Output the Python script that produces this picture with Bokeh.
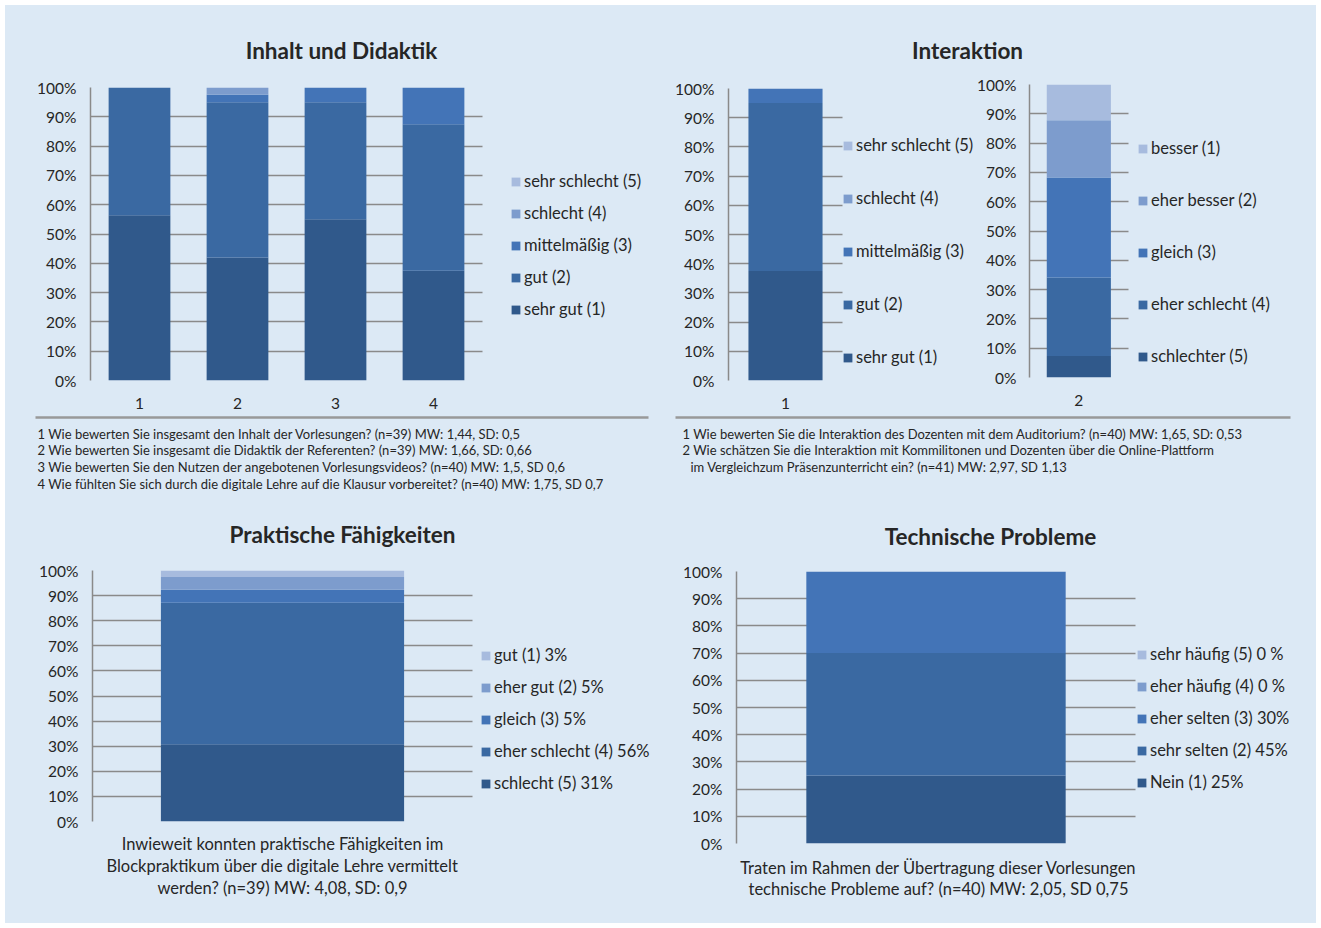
from bokeh.plotting import figure
from bokeh.models import (ColumnDataSource, Range1d, FixedTicker, PrintfTickFormatter,
                          Label, Legend, LegendItem, BoxAnnotation, Spacer)
from bokeh.layouts import row, column
from bokeh.embed import file_html
from bokeh.resources import INLINE

BG = "#dce9f5"
FONT = "Lato"
TXT = "#262626"
GRID = "#8a8a8a"
SEP = "#999999"
SHADES = ["#30598b", "#3a69a2", "#4374b7", "#7d9ccd", "#a7bbde"]  # bottom (dark) -> top (light)

# ---------------- data ----------------
# Inhalt und Didaktik (percent per question)
a_questions = ["1", "2", "3", "4"]
a_sehr_gut = [56.4, 42.0, 55.0, 37.5]
a_gut = [43.6, 53.0, 40.0, 50.0]
a_mittelmaessig = [0.0, 2.5, 5.0, 12.5]
a_schlecht = [0.0, 2.5, 0.0, 0.0]
a_sehr_schlecht = [0.0, 0.0, 0.0, 0.0]
a_legend = ["sehr gut (1)", "gut (2)", "mittelmäßig (3)", "schlecht (4)", "sehr schlecht (5)"]
a_notes = [
    "1 Wie bewerten Sie insgesamt den Inhalt der Vorlesungen? (n=39) MW: 1,44, SD: 0,5",
    "2 Wie bewerten Sie insgesamt die Didaktik der Referenten? (n=39) MW: 1,66, SD: 0,66",
    "3 Wie bewerten Sie den Nutzen der angebotenen Vorlesungsvideos? (n=40) MW: 1,5, SD 0,6",
    "4 Wie fühlten Sie sich durch die digitale Lehre auf die Klausur vorbereitet? (n=40) MW: 1,75, SD 0,7",
]

# Interaktion
b1_question = ["1"]
b1_sehr_gut = [37.5]
b1_gut = [57.5]
b1_mittelmaessig = [5.0]
b1_schlecht = [0.0]
b1_sehr_schlecht = [0.0]
b1_legend = ["sehr gut (1)", "gut (2)", "mittelmäßig (3)", "schlecht (4)", "sehr schlecht (5)"]

b2_question = ["2"]
b2_schlechter = [7.3]
b2_eher_schlecht = [26.8]
b2_gleich = [34.2]
b2_eher_besser = [19.5]
b2_besser = [12.2]
b2_legend = ["schlechter (5)", "eher schlecht (4)", "gleich (3)", "eher besser (2)", "besser (1)"]
b_notes = [
    "1 Wie bewerten Sie die Interaktion des Dozenten mit dem Auditorium? (n=40) MW: 1,65, SD: 0,53",
    "2 Wie schätzen Sie die Interaktion mit Kommilitonen und Dozenten über die Online-Plattform",
    "im Vergleichzum Präsenzunterricht ein? (n=41) MW: 2,97,  SD 1,13",
]

# Praktische Fähigkeiten
c_question = ["1"]
c_schlecht = [30.8]
c_eher_schlecht = [56.4]
c_gleich = [5.1]
c_eher_gut = [5.1]
c_gut = [2.6]
c_legend = ["schlecht (5) 31%", "eher schlecht (4) 56%", "gleich (3) 5%", "eher gut (2) 5%", "gut (1) 3%"]
c_caption = ["Inwieweit konnten praktische Fähigkeiten im",
             "Blockpraktikum über die digitale Lehre vermittelt",
             "werden? (n=39) MW: 4,08, SD: 0,9"]

# Technische Probleme
d_question = ["1"]
d_nein = [25.0]
d_sehr_selten = [45.0]
d_eher_selten = [30.0]
d_eher_haeufig = [0.0]
d_sehr_haeufig = [0.0]
d_legend = ["Nein (1) 25%", "sehr selten (2) 45%", "eher selten (3) 30%", "eher häufig (4) 0 %", "sehr häufig (5) 0 %"]
d_caption = ["Traten im Rahmen der Übertragung dieser Vorlesungen",
             "technische Probleme auf? (n=40) MW: 2,05, SD 0,75"]

y_ticks = [0, 10, 20, 30, 40, 50, 60, 70, 80, 90, 100]


# ---------------- helpers ----------------
def band(geom):
    L, T, W, H = geom
    p = figure(width=W, height=H, x_range=Range1d(0, 1), y_range=Range1d(0, 1), title=None,
               x_axis_type=None, y_axis_type=None, output_backend="svg", toolbar_location=None,
               tools="", min_border=0, background_fill_color=BG, border_fill_color=BG,
               outline_line_color=None)
    return p


def add_text(p, geom, X, Y, text, size, bold=False, align="left"):
    L, T, W, H = geom
    p.add_layout(Label(x=X - L, y=(T + H) - Y, x_units="screen", y_units="screen", text=text,
                       text_font=FONT, text_font_size=f"{size}px",
                       text_font_style="bold" if bold else "normal",
                       text_color=TXT, text_align=align, text_baseline="middle"))


def separator(p, geom, X0, X1, Y, thick=2.5):
    L, T, W, H = geom
    p.add_layout(BoxAnnotation(left=X0 - L, right=X1 - L, bottom=(T + H) - Y - thick / 2,
                               top=(T + H) - Y + thick / 2, left_units="screen",
                               right_units="screen", top_units="screen", bottom_units="screen",
                               fill_color=SEP, fill_alpha=1.0, line_color=None))


def panel(cats, series, labels, geom, plot_right, bar_w, show_x, legend_box_left,
          legend_first_y, spacing, standoff=14):
    # geom: (abs_left, abs_top, width, height, border_left, border_top, border_bottom)
    L, T, W, H, bl, bt, bb = geom
    xs = [int(c) for c in cats]
    n = len(xs)
    frame_left = L + bl
    frame_w = W - bl
    frame_bottom = T + H - bb
    unit = (plot_right - frame_left) / n
    x0 = xs[0] - 0.5
    x_end = x0 + frame_w / unit
    p = figure(x_range=Range1d(x0, x_end), y_range=Range1d(0, 100), width=W, height=H,
               title=None, output_backend="svg", toolbar_location=None, tools="",
               min_border_left=bl, min_border_right=0, min_border_top=bt, min_border_bottom=bb,
               background_fill_color=BG, border_fill_color=BG, outline_line_color=None)
    data = {"x": xs, "question": cats}
    keys = []
    for i, s in enumerate(series):
        data[f"s{i}"] = s
        keys.append(f"s{i}")
    rends = p.vbar_stack(keys, x="x", width=bar_w, fill_color=SHADES, line_color=None,
                         source=ColumnDataSource(data))
    ticker = FixedTicker(ticks=y_ticks)
    yax = p.yaxis[0]
    yax.ticker = ticker
    yax.formatter = PrintfTickFormatter(format="%d%%")
    yax.major_tick_out = 0
    yax.major_tick_in = 0
    yax.minor_tick_out = 0
    yax.minor_tick_in = 0
    yax.axis_line_color = GRID
    yax.axis_line_width = 1.5
    yax.major_label_text_font = FONT
    yax.major_label_text_font_size = "15.5px"
    yax.major_label_text_color = TXT
    yax.major_label_standoff = standoff
    grid = p.ygrid[0]
    grid.ticker = ticker
    grid.grid_line_color = GRID
    grid.grid_line_width = 1.5
    try:
        grid.cross_bounds = (x0, xs[-1] + 0.5)
    except Exception:
        pass
    p.xgrid.visible = False
    xax = p.xaxis[0]
    if show_x:
        xax.ticker = FixedTicker(ticks=xs)
        xax.axis_line_color = None
        xax.major_tick_out = 0
        xax.major_tick_in = 0
        xax.minor_tick_out = 0
        xax.minor_tick_in = 0
        xax.major_label_text_font = FONT
        xax.major_label_text_font_size = "15.5px"
        xax.major_label_text_color = TXT
        xax.major_label_standoff = 17
    else:
        xax.visible = False
    # legend inside the (widened) frame, right of the plotted area
    label_h = 20
    k = len(series)
    box_top = legend_first_y - label_h / 2
    box_bottom = box_top + k * label_h + (k - 1) * spacing
    lx = legend_box_left - frame_left
    ly = frame_bottom - box_bottom
    items = [LegendItem(label=labels[i], renderers=[rends[i]]) for i in reversed(range(k))]
    leg = Legend(items=items, location=(lx, ly), orientation="vertical", padding=0, margin=0,
                 spacing=spacing, glyph_width=11, glyph_height=11, label_standoff=3,
                 label_height=label_h, label_text_font=FONT, label_text_font_size="16.5px",
                 label_text_color=TXT, border_line_color=None, background_fill_alpha=0)
    p.add_layout(leg)
    return p


# ---------------- column A: Inhalt und Didaktik ----------------
gTA = (5, 5, 660, 65)
titleA = band(gTA)
add_text(titleA, gTA, 341, 50, "Inhalt und Didaktik", 22.5, bold=True, align="center")

gA = (5, 70, 660, 345, 85, 17, 35)
figA = panel(a_questions, [a_sehr_gut, a_gut, a_mittelmaessig, a_schlecht, a_sehr_schlecht],
             a_legend, gA, 482, 0.63, True, 510, 181, 12)

gNA = (5, 415, 660, 90)
notesA = band(gNA)
separator(notesA, gNA, 35, 648, 417)
for t, y in zip(a_notes, [433, 449, 466, 483]):
    add_text(notesA, gNA, 37, y, t, 13)

# ---------------- column B: Interaktion ----------------
gTB = (665, 5, 651, 65)
titleB = band(gTB)
add_text(titleB, gTB, 967, 50, "Interaktion", 22.5, bold=True, align="center")

gB1 = (665, 70, 309, 345, 63, 18, 35)
figB1 = panel(b1_question, [b1_sehr_gut, b1_gut, b1_mittelmaessig, b1_schlecht, b1_sehr_schlecht],
              b1_legend, gB1, 842, 0.65, True, 842, 145, 33)

gB2 = (974, 70, 342, 345, 54, 14, 38)
figB2 = panel(b2_question, [b2_schlechter, b2_eher_schlecht, b2_gleich, b2_eher_besser, b2_besser],
              b2_legend, gB2, 1127, 0.65, True, 1136, 148, 32, standoff=13)

gNB = (665, 415, 651, 90)
notesB = band(gNB)
separator(notesB, gNB, 675, 1290, 417)
for t, x, y in zip(b_notes, [682, 682, 690], [433, 449, 466]):
    add_text(notesB, gNB, x, y, t, 13)

# ---------------- column C: Praktische Fähigkeiten ----------------
gTC = (5, 505, 660, 50)
titleC = band(gTC)
add_text(titleC, gTC, 342, 534, "Praktische Fähigkeiten", 22.5, bold=True, align="center")

gC = (5, 555, 660, 278, 87, 15, 12)
figC = panel(c_question, [c_schlecht, c_eher_schlecht, c_gleich, c_eher_gut, c_gut],
             c_legend, gC, 472, 0.64, False, 480, 655, 12)

gCC = (5, 833, 660, 90)
capC = band(gCC)
for t, y in zip(c_caption, [843, 865, 887]):
    add_text(capC, gCC, 282, y, t, 16.5, align="center")

# ---------------- column D: Technische Probleme ----------------
gTD = (665, 505, 651, 50)
titleD = band(gTD)
add_text(titleD, gTD, 990, 536, "Technische Probleme", 22.5, bold=True, align="center")

gD = (665, 555, 651, 300, 71, 16, 12)
figD = panel(d_question, [d_nein, d_sehr_selten, d_eher_selten, d_eher_haeufig, d_sehr_haeufig],
             d_legend, gD, 1135, 0.65, False, 1136, 654, 12)

gCD = (665, 855, 651, 68)
capD = band(gCD)
for t, y in zip(d_caption, [867, 888]):
    add_text(capD, gCD, 938, y, t, 16.5, align="center")


# ---------------- layout (each plot wrapped so frames are not aligned) ----------------
def w(p):
    return row(p, spacing=0)


colA = column(w(titleA), w(figA), w(notesA), spacing=0)
colB = column(w(titleB), row(w(figB1), w(figB2), spacing=0), w(notesB), spacing=0)
colC = column(w(titleC), w(figC), w(capC), spacing=0)
colD = column(w(titleD), w(figD), w(capD), spacing=0)
content = column(row(colA, colB, spacing=0), row(colC, colD, spacing=0), spacing=0,
                 styles={"background-color": BG})
page = column(Spacer(width=1311, height=5),
              row(Spacer(width=5, height=918), content, spacing=0),
              spacing=0)

open("out.html", "w").write(file_html(page, INLINE))
